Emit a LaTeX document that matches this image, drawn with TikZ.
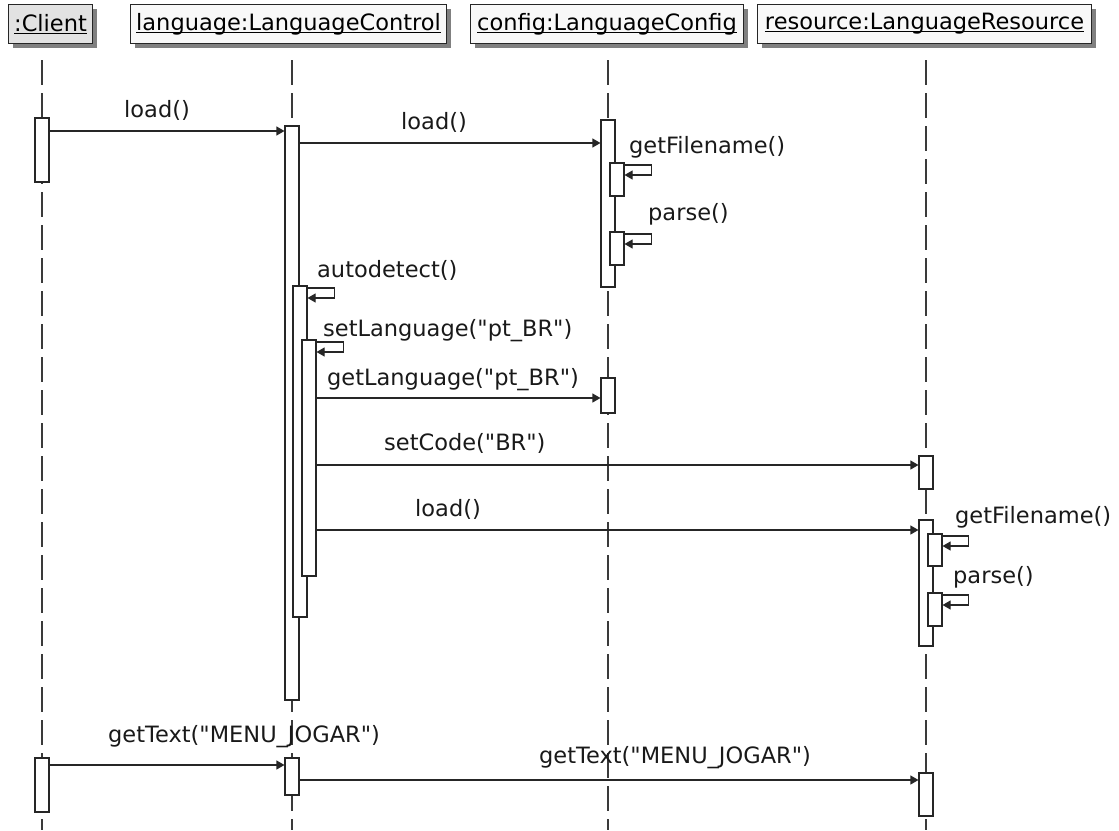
\documentclass[tikz,border=0pt]{standalone}
\usepackage{fontspec}
\setmainfont{DejaVu Sans}
\usetikzlibrary{arrows.meta,shadows}
\definecolor{clientfill}{HTML}{E2E2E2}
\definecolor{headfill}{HTML}{F8F8F8}
\definecolor{lifecol}{HTML}{3A3A3A}
\definecolor{shadowcol}{HTML}{808080}
\newcommand\actbar[4]{\node[bar, minimum height={(#4-#3)*1pt}] (#1) at (#2,{(#3+#4)/2}) {};}
\newcommand\hul[1]{\setbox0\hbox{#1}\rlap{\rule[-2.5pt]{\wd0}{1.1pt}}\box0}
\newcommand\qq{\textquotedbl}
\begin{document}
\begin{tikzpicture}[x=1pt,y=-1pt,
  every node/.style={font=\fontsize{22.5}{27}\selectfont},
  head/.style={draw=black!85, line width=1.1pt, inner sep=0pt, minimum height=39pt,
    anchor=north west, drop shadow={shadow xshift=4pt, shadow yshift=-4pt, fill=shadowcol, opacity=1}},
  lifeline/.style={draw=lifecol, line width=1.2pt, dash pattern=on 25pt off 8pt},
  bar/.style={draw=black!85, fill=white, line width=1.1pt, minimum width=14pt, inner sep=0pt},
  msg/.style={draw=black!85, line width=1.1pt, -{Triangle[length=8pt,width=9pt]}},
  lbl/.style={inner sep=0pt, anchor=base west, text=black!90}]
\useasboundingbox (0,0) rectangle (1119,830);

% headers
\node[head, fill=clientfill, minimum width=84pt] (hcl) at (8,4) {\hul{:Client}};
\node[head, fill=headfill, minimum width=316pt] (hlc) at (130,4) {\hul{language:LanguageControl}};
\node[head, fill=headfill, minimum width=273pt] (hcf) at (470,4) {\hul{config:LanguageConfig}};
\node[head, fill=headfill, minimum width=334pt] (hrs) at (757,4) {\hul{resource:LanguageResource}};

% lifelines
\coordinate (lcl) at (42,60);
\coordinate (llc) at (292,60);
\coordinate (lcf) at (608,60);
\coordinate (lrs) at (926,60);
\draw[lifeline] (lcl) -- (lcl |- 0,830);
\draw[lifeline] (llc) -- (llc |- 0,830);
\draw[lifeline] (lcf) -- (lcf |- 0,830);
\draw[lifeline] (lrs) -- (lrs |- 0,830);

% activation bars
\actbar{cl1}{42}{118}{182}
\actbar{lc1}{292}{126}{700}
\actbar{cf1}{608}{120}{287}
\actbar{cfs1}{617}{163}{196}
\actbar{cfs2}{617}{232}{265}
\actbar{lc2}{300}{286}{617}
\actbar{lc3}{309}{340}{576}
\actbar{cf2}{608}{378}{413}
\actbar{rs1}{926}{456}{489}
\actbar{rs2}{926}{520}{646}
\actbar{rss1}{935}{534}{566}
\actbar{rss2}{935}{593}{626}
\actbar{cl2}{42}{758}{812}
\actbar{lc4}{292}{758}{795}
\actbar{rs3}{926}{773}{816}

% messages
\draw[msg] (cl1.east |- 0,131) -- (lc1.west |- 0,131);
\node[lbl] (m1) at (124,117) {load()};
\draw[msg] (lc1.east |- 0,143) -- (cf1.west |- 0,143);
\node[lbl] (m2) at (401,129) {load()};
\draw[msg] (cfs1.east |- 0,165) -- ++(27,0) -- ++(0,10) -- (cfs1.east |- 0,175);
\node[lbl] (m3) at (629,153) {getFilename()};
\draw[msg] (cfs2.east |- 0,234) -- ++(27,0) -- ++(0,10) -- (cfs2.east |- 0,244);
\node[lbl] (m4) at (648,220) {parse()};
\draw[msg] (lc2.east |- 0,288) -- ++(27,0) -- ++(0,10) -- (lc2.east |- 0,298);
\node[lbl] (m5) at (317,277) {autodetect()};
\draw[msg] (lc3.east |- 0,342) -- ++(27,0) -- ++(0,10) -- (lc3.east |- 0,352);
\node[lbl] (m6) at (323,336) {setLanguage(\qq pt\_BR\qq)};
\draw[msg] (lc3.east |- 0,398) -- (cf2.west |- 0,398);
\node[lbl] (m7) at (327,385) {getLanguage(\qq pt\_BR\qq)};
\draw[msg] (lc3.east |- 0,465) -- (rs1.west |- 0,465);
\node[lbl] (m8) at (384,450) {setCode(\qq BR\qq)};
\draw[msg] (lc3.east |- 0,530) -- (rs2.west |- 0,530);
\node[lbl] (m9) at (415,516) {load()};
\draw[msg] (rss1.east |- 0,536) -- ++(26,0) -- ++(0,10) -- (rss1.east |- 0,546);
\node[lbl] (m10) at (955,523) {getFilename()};
\draw[msg] (rss2.east |- 0,595) -- ++(26,0) -- ++(0,10) -- (rss2.east |- 0,605);
\node[lbl] (m11) at (953,583) {parse()};
\draw[msg] (cl2.east |- 0,765) -- (lc4.west |- 0,765);
\node[lbl] (m12) at (108,742) {getText(\qq MENU\_JOGAR\qq)};
\draw[msg] (lc4.east |- 0,780) -- (rs3.west |- 0,780);
\node[lbl] (m13) at (539,763) {getText(\qq MENU\_JOGAR\qq)};
\end{tikzpicture}
\end{document}
